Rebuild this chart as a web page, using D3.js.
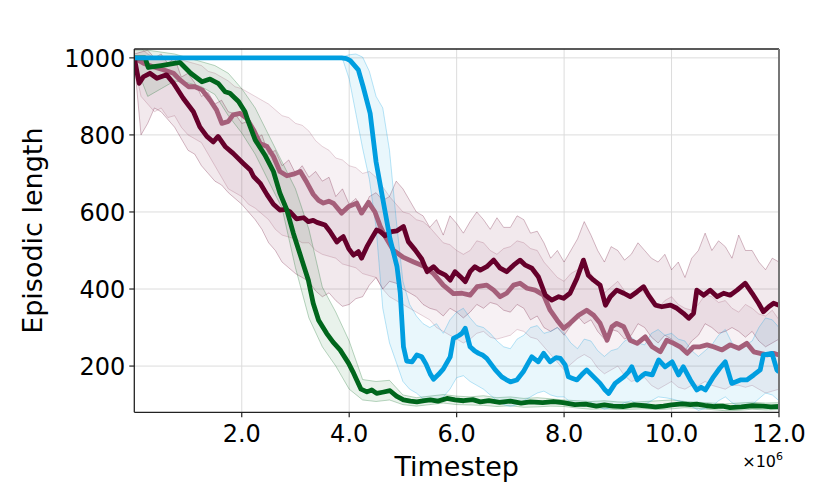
<!DOCTYPE html>
<html>
<head>
<meta charset="utf-8">
<script src="https://cdn.jsdelivr.net/npm/d3@7"></script>
<style>
  body { margin: 0; background: #fff; }
  svg { font-family: "DejaVu Sans", sans-serif; }
</style>
</head>
<body>
<svg id="chart" width="830" height="498"></svg>
<script>
// x in millions of timesteps, y = episodic length
const xTicks = [2, 4, 6, 8, 10, 12];
const yTicks = [200, 400, 600, 800, 1000];

const greenMean = [[0,1000],[0.2,1000],[0.26,975],[0.5,980],[0.85,988],[1.05,960],[1.26,938],[1.41,945],[1.56,934],[1.69,912],[1.78,908],[1.94,887],[2.06,860],[2.12,835],[2.25,787],[2.43,748],[2.59,705],[2.71,649],[2.84,605],[2.96,545],[3.12,475],[3.24,423],[3.33,363],[3.43,319],[3.58,285],[3.7,262],[3.83,242],[3.99,207],[4.07,185],[4.14,164],[4.22,140],[4.33,133],[4.42,138],[4.51,129],[4.62,132],[4.76,136],[4.88,122],[5.01,112],[5.14,109],[5.26,107],[5.4,110],[5.51,112],[5.65,109],[5.82,116],[5.97,112],[6.13,110],[6.3,113],[6.44,107],[6.6,110],[6.8,106],[7.0,109],[7.2,104],[7.37,107],[7.6,105],[7.8,108],[7.98,105],[8.2,100],[8.4,101],[8.6,96],[8.75,99],[8.91,96],[9.1,95],[9.3,99],[9.5,97],[9.7,94],[9.85,96],[10.0,99],[10.2,102],[10.35,100],[10.47,101],[10.65,97],[10.8,95],[10.95,96],[11.09,92],[11.3,94],[11.5,97],[11.7,96],[11.85,94],[12,95]];

const blueMean = [[0,1000],[3.86,1000],[3.95,998],[4.02,993],[4.17,969],[4.26,925],[4.39,856],[4.5,730],[4.63,630],[4.76,530],[4.89,458],[4.95,390],[4.98,319],[5.01,250],[5.07,213],[5.17,211],[5.26,229],[5.35,224],[5.43,205],[5.51,179],[5.57,166],[5.66,178],[5.75,192],[5.88,224],[5.94,272],[6.0,276],[6.05,280],[6.10,285],[6.16,298],[6.25,250],[6.33,240],[6.41,233],[6.49,228],[6.56,220],[6.64,205],[6.72,190],[6.84,172],[6.92,165],[7.0,159],[7.12,164],[7.24,185],[7.32,205],[7.40,224],[7.52,211],[7.62,233],[7.74,211],[7.85,222],[7.93,220],[8.02,203],[8.08,172],[8.16,168],[8.24,164],[8.33,178],[8.42,190],[8.55,172],[8.67,155],[8.75,140],[8.83,129],[8.95,155],[9.11,172],[9.2,185],[9.26,198],[9.36,164],[9.45,175],[9.51,181],[9.64,177],[9.76,216],[9.88,198],[10.01,211],[10.13,177],[10.22,198],[10.35,164],[10.47,138],[10.55,145],[10.63,138],[10.78,172],[10.9,195],[11.0,211],[11.12,155],[11.28,164],[11.40,164],[11.53,177],[11.65,190],[11.71,229],[11.87,233],[11.96,190],[12,185]];

const maroonMean = [[0,1000],[0.09,934],[0.17,951],[0.29,960],[0.42,947],[0.6,956],[0.73,934],[0.91,895],[1.1,860],[1.22,821],[1.35,796],[1.47,782],[1.56,796],[1.69,770],[1.84,752],[2.03,726],[2.16,709],[2.22,692],[2.34,675],[2.47,645],[2.59,620],[2.71,605],[2.81,607],[2.9,600],[3.02,582],[3.15,585],[3.24,575],[3.33,578],[3.4,573],[3.55,566],[3.64,550],[3.77,522],[3.83,530],[3.89,536],[3.99,505],[4.08,488],[4.17,497],[4.23,480],[4.33,510],[4.42,532],[4.51,553],[4.58,549],[4.67,538],[4.79,549],[4.89,551],[5.01,562],[5.1,523],[5.23,501],[5.35,478],[5.45,445],[5.57,458],[5.66,445],[5.79,436],[5.88,423],[5.97,445],[6.07,432],[6.16,419],[6.25,445],[6.34,458],[6.44,449],[6.56,458],[6.69,475],[6.81,454],[6.93,445],[7.06,462],[7.18,475],[7.28,462],[7.4,454],[7.52,432],[7.65,384],[7.77,371],[7.9,380],[7.99,376],[8.11,389],[8.24,428],[8.36,475],[8.45,436],[8.55,423],[8.67,410],[8.77,358],[8.86,380],[8.98,397],[9.11,389],[9.23,380],[9.36,393],[9.48,406],[9.57,384],[9.7,358],[9.82,354],[9.98,358],[10.1,350],[10.22,337],[10.32,324],[10.41,337],[10.47,397],[10.6,384],[10.72,397],[10.85,380],[10.97,389],[11.09,384],[11.22,397],[11.37,415],[11.5,389],[11.62,363],[11.71,341],[11.81,354],[11.9,363],[12,358]];

const mauveMean = [[0,1000],[0.17,986],[0.35,977],[0.54,969],[0.73,960],[0.85,943],[1.01,925],[1.13,925],[1.26,917],[1.41,890],[1.53,865],[1.63,830],[1.75,835],[1.84,852],[1.97,856],[2.09,843],[2.22,813],[2.34,778],[2.47,770],[2.59,744],[2.71,705],[2.84,694],[2.96,698],[3.09,705],[3.21,677],[3.33,646],[3.43,630],[3.52,623],[3.62,628],[3.71,622],[3.86,597],[3.99,614],[4.14,623],[4.23,597],[4.36,625],[4.48,600],[4.58,562],[4.67,536],[4.82,501],[5.01,482],[5.2,470],[5.38,460],[5.57,440],[5.75,410],[5.94,388],[6.1,389],[6.25,384],[6.38,406],[6.56,410],[6.69,397],[6.81,380],[6.93,389],[7.06,410],[7.18,415],[7.31,402],[7.46,397],[7.62,384],[7.74,345],[7.87,319],[7.99,298],[8.11,311],[8.27,332],[8.42,345],[8.55,332],[8.67,311],[8.8,267],[8.89,302],[8.98,311],[9.11,302],[9.23,267],[9.36,259],[9.51,276],[9.64,250],[9.79,237],[9.91,267],[10.04,259],[10.16,250],[10.29,233],[10.41,250],[10.53,250],[10.66,255],[10.78,250],[10.94,242],[11.09,255],[11.25,246],[11.4,259],[11.53,237],[11.65,233],[11.78,229],[11.9,233],[12,229]];

// shaded bands: green sampled every 0.25M, the others every 0.125M
const bandX4 = [0,0.25,0.5,0.75,1,1.25,1.5,1.75,2,2.25,2.5,2.75,3,3.25,3.5,3.75,4,4.25,4.5,4.75,5,5.25,5.5,5.75,6,6.25,6.5,6.75,7,7.25,7.5,7.75,8,8.25,8.5,8.75,9,9.25,9.5,9.75,10,10.25,10.5,10.75,11,11.25,11.5,11.75,12];
const bandX8 = [
  0,0.125,0.25,0.375,0.5,0.625,0.75,0.875,
  1,1.125,1.25,1.375,1.5,1.625,1.75,1.875,
  2,2.125,2.25,2.375,2.5,2.625,2.75,2.875,
  3,3.125,3.25,3.375,3.5,3.625,3.75,3.875,
  4,4.125,4.25,4.375,4.5,4.625,4.75,4.875,
  5,5.125,5.25,5.375,5.5,5.625,5.75,5.875,
  6,6.125,6.25,6.375,6.5,6.625,6.75,6.875,
  7,7.125,7.25,7.375,7.5,7.625,7.75,7.875,
  8,8.125,8.25,8.375,8.5,8.625,8.75,8.875,
  9,9.125,9.25,9.375,9.5,9.625,9.75,9.875,
  10,10.125,10.25,10.375,10.5,10.625,10.75,10.875,
  11,11.125,11.25,11.375,11.5,11.625,11.75,11.875,
  12];

const greenHi = [1020,1020,1015,1010,1000,990,980,960,920,870,800,730,660,555,405,340,265,165,160,163,125,118,122,126,122,120,123,118,120,116,118,115,112,110,108,110,107,106,108,110,112,108,106,104,102,104,106,104,105];
const greenLo = [990,900,920,940,935,925,905,850,805,750,680,610,455,325,250,200,140,112,108,112,100,96,100,104,100,99,98,95,97,93,94,96,95,91,88,89,87,88,89,87,89,92,90,87,84,85,88,86,87];

const blueHi = [
  1000,1000,1000,1000,1000,1000,1000,1000,
  1000,1000,1000,1000,1000,1000,1000,1000,
  1000,1000,1000,1000,1000,1000,1000,1000,
  1000,1000,1000,1000,1000,1000,1000,1003,
  1008,1010,1002,965,900,870,760,580,
  420,360,330,310,300,310,285,320,
  340,350,325,305,300,285,265,250,
  245,270,280,300,305,285,290,300,
  285,260,245,270,265,240,225,240,
  245,265,275,260,255,285,295,280,
  285,270,265,240,225,240,255,280,
  295,260,245,255,265,300,325,320,
  300];
const blueLo = [
  1000,1000,1000,1000,1000,1000,1000,1000,
  1000,1000,1000,1000,1000,1000,1000,1000,
  1000,1000,1000,1000,1000,1000,1000,1000,
  1000,1000,1000,1000,1000,1000,1000,998,
  945,855,765,685,560,350,260,210,
  160,140,130,115,110,105,120,140,
  170,175,160,150,140,125,110,100,
  95,100,110,120,130,135,125,120,
  120,105,100,95,105,95,88,92,
  95,105,110,100,100,110,120,118,
  115,110,105,95,85,90,95,110,
  120,105,95,90,100,115,130,125,
  110];

const maroonHi = [
  1010,1015,1020,1000,1010,985,1000,950,
  960,935,900,910,880,890,860,855,
  830,835,790,800,750,760,720,735,
  700,720,690,705,680,690,640,660,
  620,635,600,640,650,630,640,680,
  660,630,600,590,560,580,540,590,
  570,545,575,600,580,555,585,560,
  560,590,580,545,550,520,480,500,
  470,500,530,575,540,500,470,510,
  500,475,490,520,500,480,470,490,
  450,470,430,480,500,545,500,525,
  510,480,540,500,500,470,450,480,
  470];
const maroonLo = [
  990,800,830,870,860,840,820,790,
  760,750,720,700,680,670,650,635,
  620,600,580,555,520,500,470,455,
  440,430,420,395,380,390,370,355,
  360,375,380,410,430,400,420,415,
  400,390,380,360,350,345,330,350,
  340,325,340,360,350,365,360,345,
  340,360,350,320,330,300,290,300,
  280,305,330,310,320,290,270,295,
  290,270,280,310,300,275,260,280,
  270,255,240,265,280,310,300,285,
  290,300,290,275,290,265,250,260,
  270];

const mauveHi = [
  1020,1025,1010,1000,1005,1000,1000,995,
  990,985,980,965,960,950,940,925,
  920,910,900,890,880,865,850,845,
  830,825,810,785,770,760,740,735,
  720,715,700,705,690,665,640,620,
  600,595,580,575,560,540,520,515,
  500,490,500,525,520,500,490,505,
  510,525,520,505,500,470,450,430,
  420,440,450,465,440,410,390,405,
  420,395,380,400,390,365,350,370,
  380,360,350,345,360,385,380,365,
  370,350,340,360,350,335,330,345,
  320];
const mauveLo = [
  980,900,880,860,870,845,850,820,
  800,790,780,750,720,690,660,650,
  640,620,610,595,580,555,540,535,
  530,520,520,500,490,485,480,465,
  460,455,440,435,430,400,380,370,
  360,350,340,330,320,300,290,280,
  270,260,270,285,290,275,270,275,
  280,295,290,275,270,250,230,210,
  190,205,220,230,220,195,180,190,
  200,175,160,165,170,150,140,150,
  160,145,140,150,150,160,150,145,
  140,150,150,145,150,140,130,135,
  140];

const series = [
  { name: "mauve",  color: "#a55f7a", mean: mauveMean,  bx: bandX8, hi: mauveHi,  lo: mauveLo },
  { name: "maroon", color: "#66002b", mean: maroonMean, bx: bandX8, hi: maroonHi, lo: maroonLo },
  { name: "green",  color: "#00661c", mean: greenMean,  bx: bandX4, hi: greenHi,  lo: greenLo },
  { name: "blue",   color: "#009ee0", mean: blueMean,   bx: bandX8, hi: blueHi,   lo: blueLo }
];

const svg = d3.select("#chart");
const plot = { left: 134.3, right: 779, top: 49, bottom: 412.3 };

const x = d3.scaleLinear().domain([0, 12]).range([plot.left, plot.right]);
const y = d3.scaleLinear().domain([80, 1023]).range([plot.bottom, plot.top]);

svg.append("defs").append("clipPath").attr("id", "clip")
  .append("rect")
  .attr("x", plot.left).attr("y", plot.top)
  .attr("width", plot.right - plot.left).attr("height", plot.bottom - plot.top);

// grid
const grid = svg.append("g").attr("stroke", "#dcdcdc").attr("stroke-width", 1);
grid.selectAll(".gx").data(xTicks).enter().append("line")
  .attr("x1", d => x(d)).attr("x2", d => x(d))
  .attr("y1", plot.top).attr("y2", plot.bottom);
grid.selectAll(".gy").data(yTicks).enter().append("line")
  .attr("x1", plot.left).attr("x2", plot.right)
  .attr("y1", d => y(d)).attr("y2", d => y(d));

const g = svg.append("g").attr("clip-path", "url(#clip)");

const area = d3.area()
  .x(d => x(d.x)).y0(d => y(d.lo)).y1(d => y(d.hi));
const line = d3.line().x(d => x(d[0])).y(d => y(d[1]));

// bands
series.forEach(s => {
  const band = s.bx.map((v, i) => ({ x: v, hi: s.hi[i], lo: s.lo[i] }));
  g.append("path").datum(band)
    .attr("d", area)
    .attr("fill", s.color).attr("fill-opacity", 0.085);
  [s.hi, s.lo].forEach(arr => {
    g.append("path").datum(s.bx.map((v, i) => [v, arr[i]]))
      .attr("d", line)
      .attr("fill", "none")
      .attr("stroke", s.color).attr("stroke-opacity", 0.3).attr("stroke-width", 0.9);
  });
});

// mean lines
series.forEach(s => {
  g.append("path").datum(s.mean)
    .attr("d", line)
    .attr("fill", "none")
    .attr("stroke", s.color)
    .attr("stroke-width", 4.8)
    .attr("stroke-linejoin", "round");
});

// spines
svg.append("line").attr("x1", plot.left).attr("x2", plot.right).attr("y1", plot.top).attr("y2", plot.top)
  .attr("stroke", "#222").attr("stroke-width", 1.3);
svg.append("line").attr("x1", plot.right).attr("x2", plot.right).attr("y1", plot.top).attr("y2", plot.bottom)
  .attr("stroke", "#777").attr("stroke-width", 2);
svg.append("line").attr("x1", plot.left).attr("x2", plot.left).attr("y1", plot.top).attr("y2", plot.bottom)
  .attr("stroke", "#222").attr("stroke-width", 1.3);
svg.append("line").attr("x1", plot.left).attr("x2", plot.right).attr("y1", plot.bottom).attr("y2", plot.bottom)
  .attr("stroke", "#222").attr("stroke-width", 1.3);

// ticks
const tickFont = 24;
svg.selectAll(".xt").data(xTicks).enter().append("line")
  .attr("x1", d => x(d)).attr("x2", d => x(d))
  .attr("y1", plot.bottom).attr("y2", plot.bottom + 5)
  .attr("stroke", "#222").attr("stroke-width", 1.2);
svg.selectAll(".xl").data(xTicks).enter().append("text")
  .attr("x", d => x(d)).attr("y", plot.bottom + 30)
  .attr("text-anchor", "middle")
  .attr("font-size", tickFont)
  .text(d => d.toFixed(1));

svg.selectAll(".yt").data(yTicks).enter().append("line")
  .attr("x1", plot.left - 5).attr("x2", plot.left)
  .attr("y1", d => y(d)).attr("y2", d => y(d))
  .attr("stroke", "#222").attr("stroke-width", 1.2);
svg.selectAll(".yl").data(yTicks).enter().append("text")
  .attr("x", plot.left - 9).attr("y", d => y(d) + 8.7)
  .attr("text-anchor", "end")
  .attr("font-size", tickFont)
  .text(d => d);

// offset label
const off = svg.append("text")
  .attr("x", 783).attr("y", 467)
  .attr("text-anchor", "end")
  .attr("font-size", 16);
off.append("tspan").text("×10");
off.append("tspan").attr("font-size", 11).attr("dy", -7).text("6");

// axis labels
svg.append("text")
  .attr("x", (plot.left + plot.right) / 2).attr("y", 476)
  .attr("text-anchor", "middle")
  .attr("font-size", 27)
  .text("Timestep");

svg.append("text")
  .attr("transform", `translate(42,${(plot.top + plot.bottom) / 2}) rotate(-90)`)
  .attr("text-anchor", "middle")
  .attr("font-size", 27)
  .text("Episodic length");
</script>
</body>
</html>
